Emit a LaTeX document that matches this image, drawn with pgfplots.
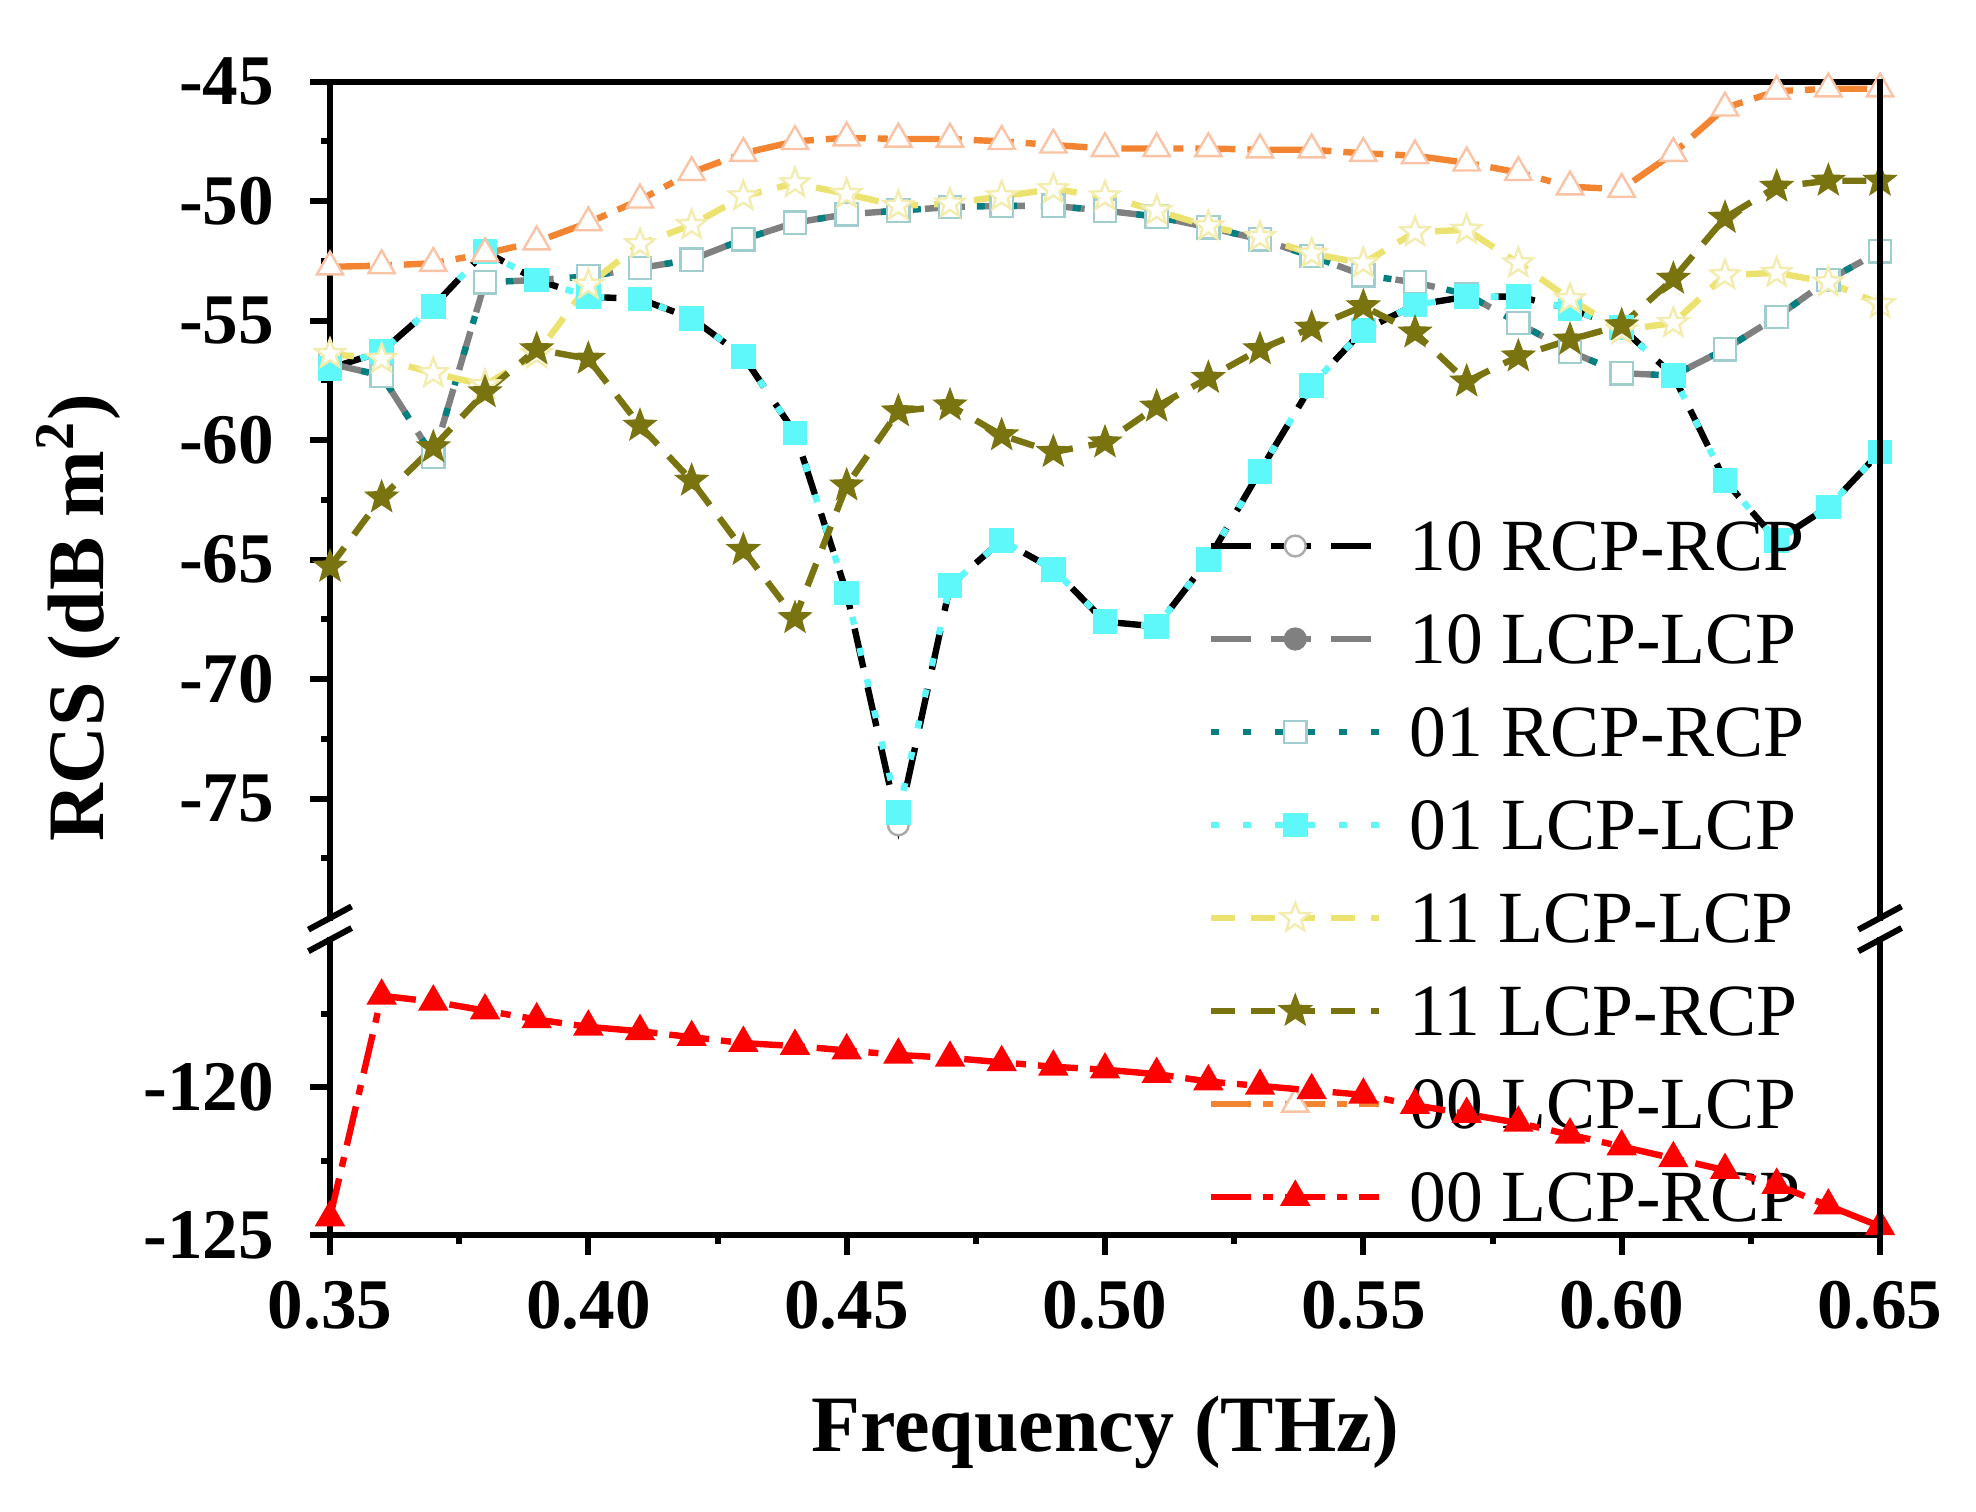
\documentclass[border=0pt]{standalone}
\usepackage{pgfplots}
\pgfplotsset{compat=1.18}
\usepackage{pgfplotstable}
\usepackage{fontspec}
\setmainfont{Liberation Serif}
\usetikzlibrary{plotmarks}

\definecolor{cgray}{RGB}{128,128,128}
\definecolor{cteal}{RGB}{0,128,128}
\definecolor{ccyan}{RGB}{95,248,250}
\definecolor{cyel}{RGB}{236,226,112}
\definecolor{colive}{RGB}{122,116,16}
\definecolor{corange}{RGB}{242,132,50}
\definecolor{cred}{RGB}{255,0,0}
\definecolor{edgecirc}{RGB}{170,170,170}
\definecolor{edgesq}{RGB}{160,205,205}
\definecolor{edgestar}{RGB}{242,236,175}
\definecolor{edgetri}{RGB}{250,195,165}

\pgfdeclareplotmark{star5}{%
 \pgfpathmoveto{\pgfpointpolar{90}{\pgfplotmarksize}}%
 \pgfpathlineto{\pgfpointpolar{126}{0.42\pgfplotmarksize}}%
 \pgfpathlineto{\pgfpointpolar{162}{\pgfplotmarksize}}%
 \pgfpathlineto{\pgfpointpolar{198}{0.42\pgfplotmarksize}}%
 \pgfpathlineto{\pgfpointpolar{234}{\pgfplotmarksize}}%
 \pgfpathlineto{\pgfpointpolar{270}{0.42\pgfplotmarksize}}%
 \pgfpathlineto{\pgfpointpolar{306}{\pgfplotmarksize}}%
 \pgfpathlineto{\pgfpointpolar{342}{0.42\pgfplotmarksize}}%
 \pgfpathlineto{\pgfpointpolar{18}{\pgfplotmarksize}}%
 \pgfpathlineto{\pgfpointpolar{54}{0.42\pgfplotmarksize}}%
 \pgfpathclose
 \pgfusepathqfillstroke
}

% f: frequency (THz); A1: 10 RCP-RCP; A2: 01 LCP-LCP; B: 10 LCP-LCP / 01 RCP-RCP
% Y: 11 LCP-LCP; O: 11 LCP-RCP; Or: 00 LCP-LCP; R: 00 LCP-RCP
\pgfplotstableread{
f    A1     A2     B      Y      O      Or     R
0.35 -57.0  -57.0  -56.8  -56.4  -65.3  -52.75 -124.4
0.36 -56.3  -56.3  -57.3  -56.6  -62.4  -52.7  -116.9
0.37 -54.4  -54.4  -60.7  -57.2  -60.3  -52.6  -117.1
0.38 -52.1  -52.1  -53.4  -57.7  -58.0  -52.2  -117.4
0.39 -53.3  -53.3  -53.3  -56.4  -56.2  -51.7  -117.7
0.40 -54.0  -54.0  -53.15 -53.5  -56.6  -50.9  -117.95
0.41 -54.1  -54.1  -52.8  -51.8  -59.4  -49.95 -118.1
0.42 -54.9  -54.9  -52.45 -51.0  -61.7  -48.8  -118.3
0.43 -56.5  -56.5  -51.6  -49.8  -64.6  -48.0  -118.5
0.44 -59.7  -59.7  -50.9  -49.25 -67.45 -47.5  -118.6
0.45 -66.4  -66.4  -50.55 -49.7  -61.9  -47.35 -118.75
0.46 -76.1  -75.6  -50.4  -50.2  -58.8  -47.4  -118.9
0.47 -66.1  -66.1  -50.25 -50.1  -58.55 -47.4  -119.0
0.48 -64.2  -64.2  -50.2  -49.8  -59.8  -47.5  -119.15
0.49 -65.4  -65.4  -50.2  -49.5  -60.5  -47.65 -119.3
0.50 -67.6  -67.6  -50.4  -49.8  -60.1  -47.8  -119.4
0.51 -67.8  -67.8  -50.65 -50.4  -58.6  -47.8  -119.55
0.52 -65.0  -65.0  -51.1  -51.05 -57.4  -47.8  -119.8
0.53 -61.3  -61.3  -51.6  -51.5  -56.2  -47.85 -119.95
0.54 -57.7  -57.7  -52.3  -52.2  -55.3  -47.85 -120.1
0.55 -55.4  -55.4  -53.1  -52.6  -54.4  -48.0  -120.25
0.56 -54.35 -54.35 -53.4  -51.3  -55.5  -48.1  -120.6
0.57 -54.0  -54.0  -53.9  -51.2  -57.55 -48.4  -120.9
0.58 -54.0  -54.0  -55.1  -52.6  -56.5  -48.8  -121.2
0.59 -54.5  -54.5  -56.3  -54.1  -55.8  -49.4  -121.6
0.60 -55.3  -55.3  -57.2  -55.4  -55.2  -49.5  -122.0
0.61 -57.3  -57.3  -57.3  -55.1  -53.25 -48.0  -122.4
0.62 -61.7  -61.7  -56.2  -53.1  -50.7  -46.1  -122.8
0.63 -64.2  -64.2  -54.85 -53.0  -49.4  -45.4  -123.3
0.64 -62.8  -62.8  -53.3  -53.4  -49.15 -45.3  -124.0
0.65 -60.5  -60.5  -52.1  -54.3  -49.15 -45.3  -124.7
}\data

\pgfplotsset{
  brk/.style={
    scale only axis, width=387.5pt,
    xmin=0.35, xmax=0.65,
    axis y line*=left,
    axis line style={-, line width=1.5pt, line cap=rect},
    tick align=outside, major tick length=5pt, minor tick length=2.2pt,
    tick style={line width=1.5pt, black},
    /pgf/number format/assume math mode=true,
    yticklabel style={font=\fontsize{17.8}{20}\selectfont\bfseries, inner sep=0pt, xshift=-8.8pt},
    xticklabel style={font=\fontsize{17.8}{20}\selectfont\bfseries, inner sep=0pt, yshift=-6.3pt,
      /pgf/number format/fixed, /pgf/number format/fixed zerofill, /pgf/number format/precision=2},
    scaled x ticks=false,
    every axis plot/.append style={line width=1.6pt},
  },
  sA/.style={black, dash pattern=on 10pt off 5pt, mark=*, mark size=2.6pt, mark options={solid, fill=white, draw=edgecirc, line width=0.6pt}},
  sB/.style={cgray, dash pattern=on 10pt off 5pt, mark=*, mark size=2.6pt, mark options={solid, fill=cgray, draw=cgray, line width=0.6pt}},
  sC/.style={cteal, dash pattern=on 2pt off 6pt, mark=square*, mark size=2.8pt, mark options={solid, fill=white, draw=edgesq, line width=0.6pt}},
  sD/.style={ccyan, dash pattern=on 2pt off 6pt, mark=square*, mark size=2.8pt, mark options={solid, fill=ccyan, draw=ccyan, line width=0.6pt}},
  sE/.style={cyel, dash pattern=on 6pt off 4pt, mark=star5, mark size=3.8pt, mark options={solid, fill=white, draw=edgestar, line width=0.6pt}},
  sF/.style={colive, dash pattern=on 6pt off 4pt, mark=star5, mark size=3.8pt, mark options={solid, fill=colive, draw=colive, line width=0.6pt}},
  sG/.style={corange, dash pattern=on 10pt off 3pt on 2.5pt off 3pt, mark=triangle*, mark size=3.8pt, mark options={solid, fill=white, draw=edgetri, line width=0.6pt}},
  sH/.style={cred, dash pattern=on 10pt off 3pt on 2.5pt off 3pt, mark=triangle*, mark size=3.8pt, mark options={solid, fill=cred, draw=cred, line width=0.6pt}},
}

\begin{document}
\begin{tikzpicture}
\path[use as bounding box] (0pt,0pt) rectangle (494pt,-377.75pt);

\begin{axis}[brk, name=up,
  at={(82.5pt,-20.4pt)}, anchor=north west,
  height=209.1pt, ymin=-80, ymax=-45,
  axis x line*=top, xtick=\empty, minor xtick={},
  ytick={-75,-70,-65,-60,-55,-50,-45},
  minor ytick={-77.5,-72.5,-67.5,-62.5,-57.5,-52.5,-47.5},
  legend cell align=left,
  legend style={at={(0.5665,0.4747)}, anchor=north west, draw=none, fill=none,
    inner sep=0pt, outer sep=0pt, row sep=10.75pt, column sep=6.75pt,
    font=\fontsize{18.4}{20}\selectfont,
    nodes={inner sep=0pt, text height=12.5pt, text depth=0pt}},
  legend image code/.code={\draw[mark repeat=2,mark phase=2,#1] plot coordinates {(0pt,0pt) (21pt,0pt) (42pt,0pt)};},
]
\addplot[sA] table[x=f,y=A1] {\data}; \addlegendentry{10 RCP-RCP}
\addplot[sB] table[x=f,y=B] {\data};  \addlegendentry{10 LCP-LCP}
\addplot[sC] table[x=f,y=B] {\data};  \addlegendentry{01 RCP-RCP}
\addplot[sD] table[x=f,y=A2] {\data}; \addlegendentry{01 LCP-LCP}
\addplot[sE] table[x=f,y=Y] {\data};  \addlegendentry{11 LCP-LCP}
\addplot[sF] table[x=f,y=O] {\data};  \addlegendentry{11 LCP-RCP}
\addplot[sG] table[x=f,y=Or] {\data}; \addlegendentry{00 LCP-LCP}
\addlegendimage{sH, line width=1.6pt}
\addlegendentry{00 LCP-RCP}
\end{axis}

\begin{axis}[brk, name=low,
  at={(82.5pt,-234.9pt)}, anchor=north west,
  height=73.9pt, ymin=-125, ymax=-115,
  axis x line*=bottom,
  xtick={0.35,0.40,0.45,0.50,0.55,0.60,0.65},
  minor xtick={0.375,0.425,0.475,0.525,0.575,0.625},
  ytick={-125,-120},
  minor ytick={-122.5,-117.5},
]
\addplot[sH] table[x=f,y=R] {\data};
\end{axis}

% right axis lines
\draw[line width=1.5pt, line cap=rect] (up.north east) -- (up.south east);
\draw[line width=1.5pt, line cap=rect] (low.north east) -- (low.south east);
% break marks
\foreach \a in {up.south west, low.north west, up.south east, low.north east}{
  \draw[line width=1.5pt] ([shift={(-5.4pt,-2.9pt)}]\a) -- ([shift={(5.4pt,2.9pt)}]\a);
}
% axis labels
\node[rotate=90, anchor=base, font=\fontsize{20}{22}\selectfont\bfseries] at (25.8pt,-154.5pt) {RCS (dB m\textsuperscript{2})};
\node[anchor=base, font=\fontsize{20}{22}\selectfont\bfseries] at (276.25pt,-362.9pt) {Frequency (THz)};
\end{tikzpicture}
\end{document}
